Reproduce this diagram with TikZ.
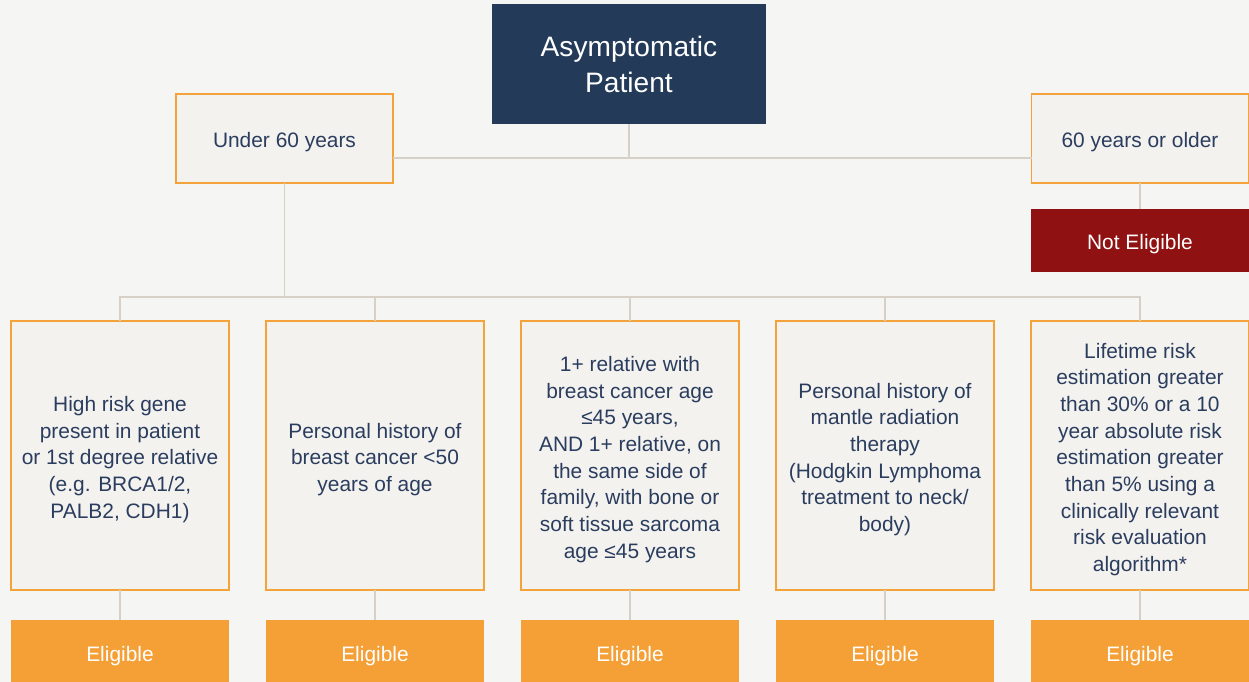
\documentclass[tikz,border=0pt]{standalone}
\usepackage{fontspec}
\setmainfont{Liberation Sans}
\definecolor{navy}{HTML}{233A59}
\definecolor{inkblue}{HTML}{2B3D5E}
\definecolor{boxfill}{HTML}{F3F2EF}
\definecolor{paper}{HTML}{F5F5F3}
\definecolor{edgeorange}{HTML}{F4A23A}
\definecolor{eligorange}{HTML}{F4A037}
\definecolor{darkred}{HTML}{8F1111}
\definecolor{linkgrey}{HTML}{D6D0C6}
\newcommand\boxfont{\fontsize{11.9}{15.2}\selectfont}
% lines of a box, set a little lower than the box centre
\newcommand\lowered[1]{\raisebox{-2.3pt}[\height][\depth]{\begin{tabular}{@{}c@{}}#1\end{tabular}}}

\begin{document}
\begin{tikzpicture}[x=0.02cm,y=-0.02cm,
    every node/.style={inner sep=0pt,outer sep=0pt},
    lead/.style={fill=navy,text=white,minimum width=5.48cm,minimum height=2.4cm,
      align=center,font=\fontsize{16}{20.5}\selectfont},
    agebox/.style={draw=edgeorange,line width=0.85pt,fill=boxfill,text=inkblue,
      minimum width=4.34cm,minimum height=1.78cm,font=\boxfont},
    critbox/.style={agebox,minimum width=4.36cm,minimum height=5.38cm},
    verdict/.style={fill=#1,text=white,minimum width=4.38cm,font=\boxfont},
    link/.style={draw=linkgrey,line width=1.1pt}]

   \useasboundingbox (0,0) rectangle (1249,682);
   \clip (0,0) rectangle (1249,682);
   \fill[paper] (0,0) rectangle (1249,682);

   % top of the tree
   \node[lead] (patient) at (629,64) {Asymptomatic\\Patient};
   \node[agebox] (under) at (284.5,138.5) {\lowered{Under 60 years}};
   \node[agebox] (older) at (1140,138.5) {\lowered{60 years or older}};
   \node[verdict=darkred,minimum height=1.26cm] (noelig) at (1140,240.5) {\lowered{Not Eligible}};

   \coordinate (split) at (629,158);
   \coordinate (bus) at (284.5,297);

   % criteria
   \node[critbox] (gene) at (120,455.5)
      {\lowered{High risk gene\\present in patient\\or 1st degree relative\\(e.g. BRCA1/2,\\PALB2, CDH1)}};
   \node[critbox] (history) at (375,455.5)
      {\lowered{Personal history of\\breast cancer <50\\years of age}};
   \node[critbox] (family) at (630,455.5)
      {\lowered{1+ relative with\\breast cancer age\\≤45 years,\\AND 1+ relative, on\\the same side of\\family, with bone or\\soft tissue sarcoma\\age ≤45 years}};
   \node[critbox] (mantle) at (885,455.5)
      {\lowered{Personal history of\\mantle radiation\\therapy\\(Hodgkin Lymphoma\\treatment to neck/\\body)}};
   \node[critbox] (lifetime) at (1140,455.5)
      {\lowered{Lifetime risk\\estimation greater\\than 30\% or a 10\\year absolute risk\\estimation greater\\than 5\% using a\\clinically relevant\\risk evaluation\\algorithm*}};

   % outcomes
   \node[verdict=eligorange,minimum height=1.28cm] (elig1) at (120,652) {\lowered{Eligible}};
   \node[verdict=eligorange,minimum height=1.28cm] (elig2) at (375,652) {\lowered{Eligible}};
   \node[verdict=eligorange,minimum height=1.28cm] (elig3) at (630,652) {\lowered{Eligible}};
   \node[verdict=eligorange,minimum height=1.28cm] (elig4) at (885,652) {\lowered{Eligible}};
   \node[verdict=eligorange,minimum height=1.28cm] (elig5) at (1140,652) {\lowered{Eligible}};

   % connectors
   \draw[link] (patient.south) -- (split);
   \draw[link] (under.east |- split) -- (older.west |- split);
   \draw[link] (older) -- (noelig);
   \draw[link] (under.south) -- (bus);
   \draw[link] (gene.north) |- (lifetime.north |- bus) -- (lifetime.north);
   \draw[link] (history.north) -- (history.north |- bus);
   \draw[link] (family.north) -- (family.north |- bus);
   \draw[link] (mantle.north) -- (mantle.north |- bus);
%   \draw[link] (gene) -- (elig1);
   \draw[link] (gene.south) -- (elig1.north);
   \draw[link] (history.south) -- (elig2.north);
   \draw[link] (family.south) -- (elig3.north);
   \draw[link] (mantle.south) -- (elig4.north);
   \draw[link] (lifetime.south) -- (elig5.north);
\end{tikzpicture}
\end{document}
